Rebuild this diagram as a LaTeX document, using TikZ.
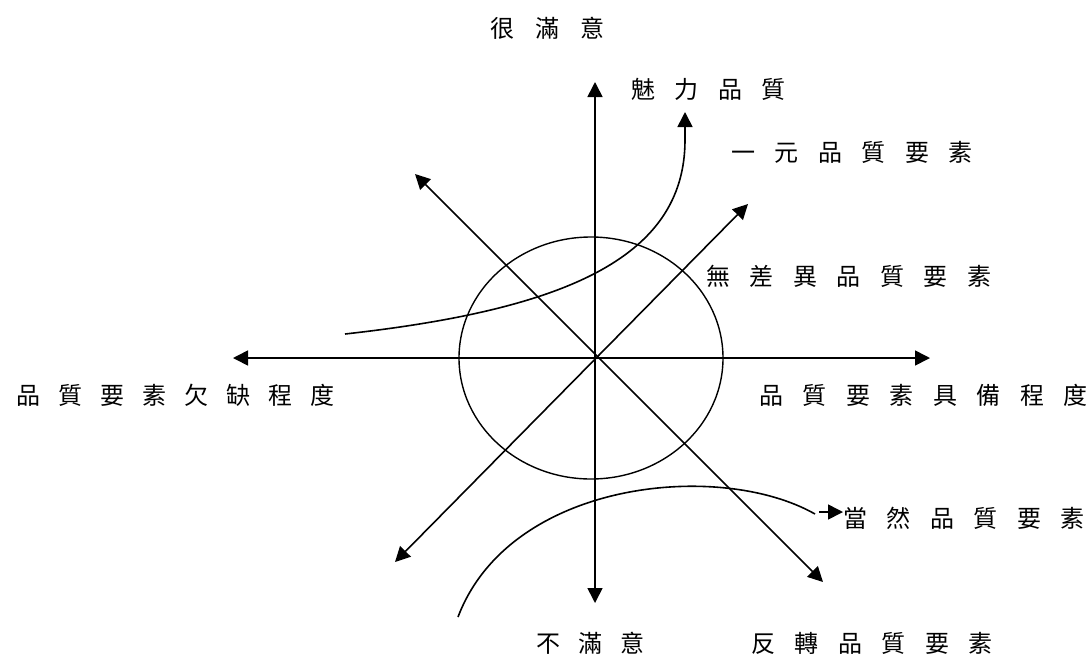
\documentclass[tikz,border=0pt]{standalone}
\usepackage{fontspec}
\setmainfont{Noto Sans CJK TC}
\usetikzlibrary{arrows.meta,shapes.geometric}
\newcommand\gp{\hspace{19.5pt}}
\newcommand\gs{\hspace{18pt}}
\begin{document}
\begin{tikzpicture}[x=1pt,y=-1pt,
  ax/.style={line width=1.6pt,-{Triangle[length=15pt,width=15pt]}},
  dax/.style={line width=1.6pt,{Triangle[length=15pt,width=15pt]}-{Triangle[length=15pt,width=15pt]}},
  cv/.style={line width=1.6pt},
  lbl/.style={anchor=west,inner sep=0pt,font=\fontsize{24}{28}\selectfont}]
\useasboundingbox (0,0) rectangle (1092,657);
% axes
\coordinate (O) at (595,358);
\coordinate (N) at (595,82);
\coordinate (S) at (595,603);
\coordinate (W) at (233,358);
\coordinate (E) at (930,358);
\coordinate (NW) at (415,174);
\coordinate (SE) at (823,582);
\coordinate (NE) at (748,204);
\coordinate (SW) at (395,562);
\draw[ax] (O) -- (N);
\draw[ax] (O) -- (S);
\draw[ax] (O) -- (W);
\draw[ax] (O) -- (E);
\draw[dax] (NW) -- (SE);
\draw[dax] (SW) -- (NE);
% ellipse
\node[draw,ellipse,line width=1.4pt,minimum width=264pt,minimum height=242pt,inner sep=0pt] (ell) at (591,358) {};
% curve 1
\coordinate (c1s) at (345,334);
\coordinate (c1e) at (685,140);
\coordinate (c1t) at (685,112);
\draw[cv] (c1s) .. controls (560,310) and (685,260) .. (c1e);
\draw[ax] (c1e) -- (c1t);
% curve 2
\coordinate (c2s) at (458,617);
\coordinate (c2e) at (815,514);
\coordinate (a2s) at (819,512);
\coordinate (a2t) at (843,512);
\draw[cv] (c2s) .. controls (510,480) and (720,460) .. (c2e);
\draw[ax] (a2s) -- (a2t);
% labels
\node[lbl] (t1) at (490,28) {很\hspace{21pt}滿\hspace{21pt}意};
\node[lbl] (t2) at (631,89) {魅\gp 力\gp 品\gp 質};
\node[lbl] (t3) at (731,152) {一\gp 元\gp 品\gp 質\gp 要\gp 素};
\node[lbl] (t4) at (706,276) {無\gp 差\gp 異\gp 品\gp 質\gp 要\gp 素};
\node[lbl] (t5) at (16,395) {品\gs 質\gs 要\gs 素\gs 欠\gs 缺\gs 程\gs 度};
\node[lbl] (t6) at (759,395) {品\gp 質\gp 要\gp 素\gp 具\gp 備\gp 程\gp 度};
\node[lbl] (t7) at (843,518) {當\gp 然\gp 品\gp 質\gp 要\gp 素};
\node[lbl] (t8) at (536,643) {不\gs 滿\gs 意};
\node[lbl] (t9) at (751,643) {反\gp 轉\gp 品\gp 質\gp 要\gp 素};
\end{tikzpicture}
\end{document}
